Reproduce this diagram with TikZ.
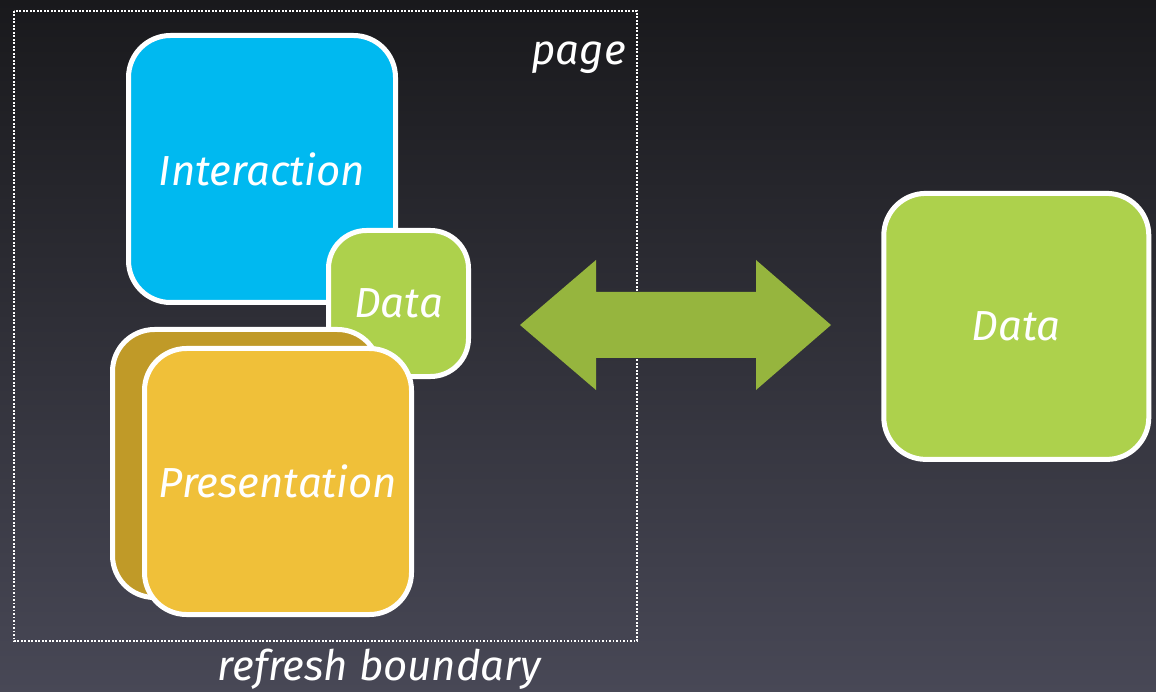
\documentclass[tikz,border=0pt]{standalone}
\usepackage{fontspec}
\setmainfont{Fira Sans}
\definecolor{bgtop}{HTML}{19191C}
\definecolor{bgbot}{HTML}{484856}
\definecolor{cyanbox}{HTML}{00B9F0}
\definecolor{greenbox}{HTML}{ADD14C}
\definecolor{arrowgreen}{HTML}{96B53E}
\definecolor{goldback}{HTML}{C09A28}
\definecolor{goldfront}{HTML}{F0C039}
\tikzset{
  lbl/.style={font=\fontsize{42}{46}\selectfont\itshape, text=white},
  card/.style={draw=white, line width=5pt, rounded corners=42pt, inner sep=0pt, lbl},
}
\begin{document}
\begin{tikzpicture}[x=1pt,y=-1pt]
\useasboundingbox (0,0) rectangle (1156,692);
\shade[top color=bgtop, bottom color=bgbot] (0,0) rectangle (1156,692);
% refresh boundary
\draw[white, line width=1.8pt, dash pattern=on 1.8pt off 1.7pt] (14,11) rectangle (637,641);
% boxes
\node[card, fill=cyanbox, minimum width=267pt, minimum height=267pt] (inter) at (262,169) {Interaction};
\node[card, fill=greenbox, minimum width=140pt, minimum height=146pt, rounded corners=38pt] (pdata) at (398.5,303.5) {Data};
\node[card, fill=goldback, minimum width=267pt, minimum height=268pt] (presback) at (246,463.5) {};
\node[card, fill=goldfront, minimum width=267pt, minimum height=266pt] (pres) at (278,481.5) {Presentation};
\node[card, fill=greenbox, minimum width=265pt, minimum height=266pt] (sdata) at (1016.3,326.4) {Data};
% double arrow
\fill[arrowgreen] (520,325) -- (596,260) -- (596,292) -- (756,292) -- (756,260) -- (831,325)
  -- (756,390) -- (756,358) -- (596,358) -- (596,390) -- cycle;
% labels
\node[lbl, anchor=base east, inner sep=0pt] (page) at (626,65) {page};
\node[lbl, anchor=base, inner sep=0pt] (refresh) at (379.5,680) {refresh boundary};
\end{tikzpicture}
\end{document}
